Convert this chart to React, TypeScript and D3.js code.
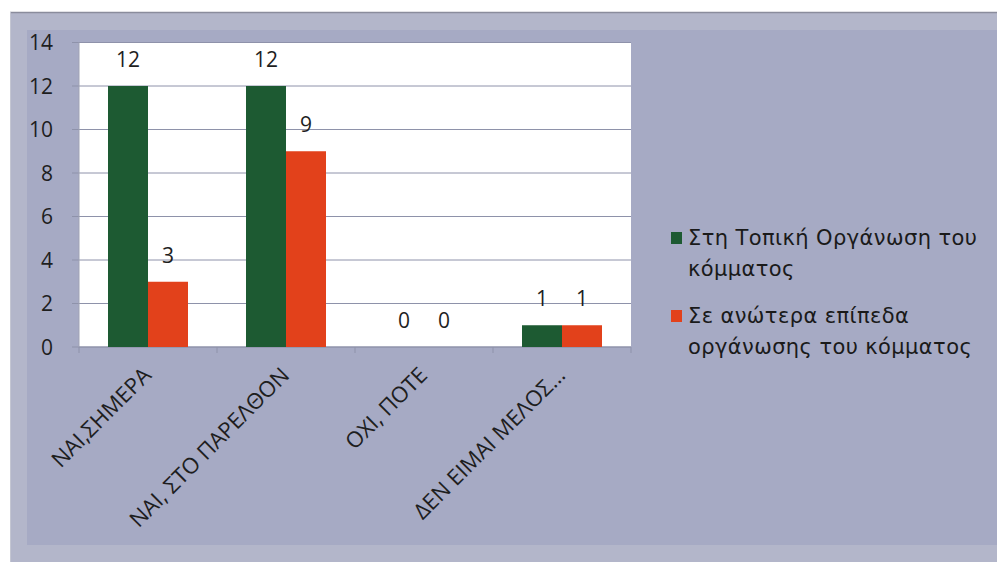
import React from "react";
import * as d3 from "d3";

const categories = ["NAI,ΣΗΜΕΡΑ", "NAI, ΣΤΟ ΠΑΡΕΛΘΟΝ", "OXI, ΠΟΤΕ", "ΔΕΝ ΕΙΜΑΙ ΜΕΛΟΣ..."];
const seriesNames = ["Στη Τοπική Οργάνωση του κόμματος", "Σε ανώτερα επίπεδα οργάνωσης του κόμματος"];
const localValues = [12, 12, 0, 1];
const higherValues = [3, 9, 0, 1];
const yTicks = [0, 2, 4, 6, 8, 10, 12, 14];
const legendLines = [["Στη Τοπική Οργάνωση του", "κόμματος"], ["Σε ανώτερα επίπεδα", "οργάνωσης του κόμματος"]];
const colors = ["#1d5a32", "#e2411b"];

export default function App() {
  const W = 997, H = 562;
  const left = 79, right = 631, top = 42.5, bottom = 347;
  const y = d3.scaleLinear().domain([0, 14]).range([bottom, top]);
  const x = d3.scaleBand<string>().domain(categories).range([left, right]).paddingInner(0).paddingOuter(0);
  const barW = 40;
  const sub = d3.scaleBand<number>().domain([0, 1]).range([-barW, barW]);
  const series = [localValues, higherValues];
  const font = "'Open Sans', Calibri, sans-serif";
  return (
    <svg width={W} height={H} style={{ position: "absolute", left: 0, top: 0 }}>
      <rect x={0} y={0} width={W} height={H} fill="#ffffff" />
      <rect x={10} y={12} width={W - 10} height={H - 12} fill="#b3b6ca" />
      <rect x={27} y={30} width={W - 27} height={515} fill="#a6aac4" />
      <line x1={10} y1={12.5} x2={W} y2={12.5} stroke="#8a8c9c" strokeWidth={1.5} />
      <line x1={10.5} y1={12} x2={10.5} y2={H} stroke="#c4c6d2" strokeWidth={1} />
      <rect x={left} y={top} width={right - left} height={bottom - top} fill="#ffffff" />
      {yTicks.map((t) => (
        <g key={t}>
          <line x1={left - 7} x2={right} y1={y(t)} y2={y(t)} stroke="#8e92aa" strokeWidth={1} />
          <text x={53} y={y(t)} dy="0.36em" textAnchor="end" fontFamily={font} fontSize={21} fill="#1e1e1e">{t}</text>
        </g>
      ))}
      <line x1={left} x2={left} y1={top} y2={bottom} stroke="#a0a3b5" strokeWidth={1} />
      <line x1={left} x2={right} y1={bottom} y2={bottom} stroke="#8e92aa" strokeWidth={1} />
      {categories.map((c, i) => (
        <line key={"tk" + i} x1={x(c)!} x2={x(c)!} y1={bottom} y2={bottom + 6} stroke="#8e92aa" strokeWidth={1} />
      ))}
      <line x1={right} x2={right} y1={bottom} y2={bottom + 6} stroke="#8e92aa" strokeWidth={1} />
      {series.map((vals, si) =>
        categories.map((c, i) => {
          const cx = x(c)! + x.bandwidth() / 2;
          const bx = cx + sub(si)!;
          return (
            <g key={si + "-" + i}>
              <rect x={bx} y={y(vals[i])} width={sub.bandwidth()} height={bottom - y(vals[i])} fill={colors[si]} />
              <text x={bx + sub.bandwidth() / 2} y={y(vals[i]) - 19} textAnchor="middle" fontFamily={font} fontSize={21} fill="#1e1e1e">{vals[i]}</text>
            </g>
          );
        })
      )}
      {categories.map((c, i) => {
        const cx = x(c)! + x.bandwidth() / 2;
        return (
          <text key={"xl" + i} transform={`translate(${cx - 7},${bottom + 18}) rotate(-45)`} textAnchor="end" dy="0.75em" fontFamily={font} fontSize={22} fill="#1e1e1e">{c}</text>
        );
      })}
      {legendLines.map((lines, li) => {
        const y0 = 245 + li * 78;
        return (
          <g key={"lg" + li}>
            <rect x={671} y={y0 - 13} width={11} height={12} fill={colors[li]} />
            {lines.map((ln, k) => (
              <text key={k} x={688} y={y0 + k * 31} fontFamily="'DejaVu Sans', sans-serif" fontSize={21} letterSpacing={0.4} fill="#1a1a1a">{ln}</text>
            ))}
          </g>
        );
      })}
      <title>{seriesNames.join(" / ")}</title>
    </svg>
  );
}
